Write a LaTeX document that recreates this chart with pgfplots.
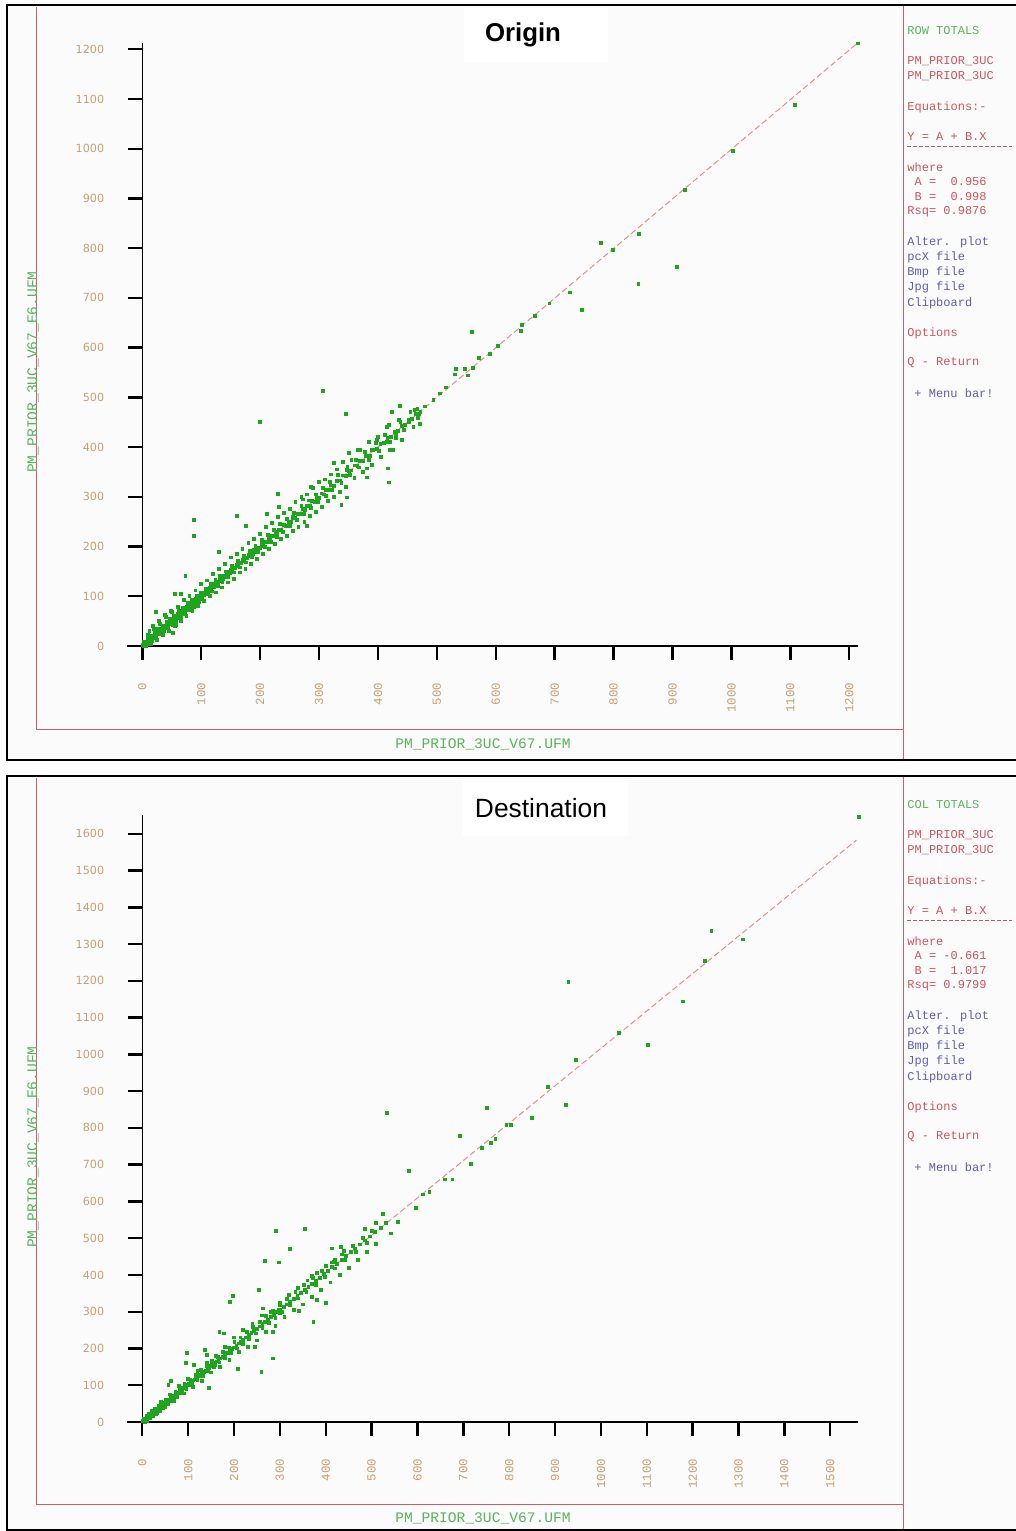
\documentclass[border=0pt]{standalone}
\usepackage{pgfplots}
\usepackage{pgfplotstable}
\pgfplotsset{compat=1.18}
\usepackage{fontspec}
\setmainfont{Liberation Sans}
\newfontfamily\mono{Liberation Mono}
\newfontfamily\dvs{DejaVu Sans}
\definecolor{tickc}{RGB}{200,160,115}
\definecolor{lblg}{RGB}{90,180,90}
\definecolor{sred}{RGB}{205,85,95}
\definecolor{sblue}{RGB}{95,95,175}
\definecolor{frm}{RGB}{200,95,105}
\definecolor{ptg}{RGB}{30,165,30}
\definecolor{regc}{RGB}{235,140,140}
\definecolor{bgc}{RGB}{251,251,251}

% ---------- Origin (row totals) ----------
\pgfplotstableread[row sep=\\]{x y\\
1 2\\ 2 1\\ 3 4\\ 4 3\\ 5 6\\ 6 5\\ 7 9\\ 8 7\\ 9 10\\ 10 9\\ 11 13\\ 12 11\\ 13 14\\ 14 12\\ 15 17\\ 16 15\\ 17 18\\ 18 16\\ 19 21\\ 20 19\\
21 23\\ 22 20\\ 23 25\\ 24 23\\ 25 27\\ 26 24\\ 27 29\\ 28 26\\ 29 31\\ 30 29\\ 31 33\\ 32 30\\ 33 35\\ 34 33\\ 35 38\\ 36 34\\ 37 39\\ 38 36\\ 39 41\\ 40 39\\
41 44\\ 42 40\\ 43 45\\ 44 43\\ 45 48\\ 46 44\\ 47 50\\ 48 46\\ 49 52\\ 50 49\\ 52 54\\ 53 51\\ 55 58\\ 56 54\\ 58 60\\ 59 57\\ 61 64\\ 62 60\\ 64 66\\ 65 63\\
67 70\\ 68 66\\ 70 72\\ 71 69\\ 73 76\\ 74 72\\ 76 78\\ 77 75\\ 79 82\\ 80 78\\ 82 84\\ 83 81\\ 85 88\\ 86 84\\ 88 90\\ 89 87\\ 91 94\\ 92 90\\ 94 96\\ 95 93\\
97 100\\ 98 96\\ 100 102\\ 101 99\\ 103 106\\ 105 103\\ 107 109\\ 109 107\\ 111 114\\ 113 111\\ 115 117\\ 117 115\\ 119 122\\ 121 119\\ 123 125\\ 125 123\\ 127 130\\ 129 127\\ 131 133\\ 133 131\\
135 138\\ 137 135\\ 139 141\\ 141 139\\ 143 146\\ 145 143\\ 147 149\\ 149 147\\ 151 154\\ 153 151\\ 155 157\\ 158 156\\ 160 163\\ 163 160\\ 165 167\\ 168 166\\ 170 173\\ 173 170\\ 175 177\\ 178 176\\
180 183\\ 183 180\\ 185 187\\ 188 186\\ 190 193\\ 193 190\\ 196 198\\ 199 197\\ 202 205\\ 205 202\\ 208 210\\ 211 209\\ 214 217\\ 217 214\\ 220 222\\ 223 221\\ 226 229\\ 229 226\\ 232 234\\ 236 234\\
240 243\\ 244 241\\ 248 250\\ 252 250\\ 256 259\\ 260 257\\ 264 266\\ 268 266\\ 272 275\\ 276 273\\ 280 282\\ 284 282\\ 288 291\\ 292 289\\ 296 298\\ 300 298\\ 304 307\\ 308 305\\ 312 314\\ 316 314\\
320 323\\ 325 322\\ 330 332\\ 335 333\\ 340 343\\ 345 342\\ 350 352\\ 355 353\\ 360 363\\ 365 362\\ 370 372\\ 375 373\\ 380 383\\ 386 383\\ 392 394\\ 398 396\\ 404 407\\ 410 408\\ 416 418\\ 422 420\\
428 431\\ 434 432\\ 440 442\\ 446 444\\ 452 455\\ 458 456\\ 465 467\\ 472 470\\ 480 482\\
3 9\\ 6 1\\ 9 15\\ 11 4\\ 14 20\\ 17 10\\ 21 28\\ 24 16\\ 27 34\\ 31 24\\ 34 41\\ 37 30\\ 41 48\\ 44 36\\ 47 55\\ 51 43\\ 54 61\\ 57 49\\ 62 70\\ 66 58\\
69 77\\ 72 64\\ 78 86\\ 81 73\\ 84 93\\ 87 79\\ 93 101\\ 96 88\\ 99 108\\ 102 94\\ 108 116\\ 112 104\\ 116 125\\ 118 110\\ 124 133\\ 128 120\\ 132 141\\ 136 128\\ 142 150\\ 146 138\\
152 161\\ 156 148\\ 162 171\\ 166 158\\ 172 181\\ 176 168\\ 182 192\\ 186 178\\ 192 202\\ 197 189\\ 203 213\\ 208 200\\ 213 223\\ 218 210\\ 224 234\\ 228 220\\ 234 245\\ 238 230\\ 246 256\\ 250 242\\
258 268\\ 262 254\\ 270 281\\ 274 266\\ 282 293\\ 286 278\\ 294 305\\ 298 290\\ 306 318\\ 311 302\\ 318 330\\ 322 314\\ 332 344\\ 338 329\\ 348 360\\ 352 344\\ 362 374\\ 368 359\\ 378 390\\ 384 375\\
396 408\\ 402 392\\ 412 424\\ 420 410\\ 438 450\\ 444 434\\ 462 474\\ 468 458\\
10 22\\ 15 5\\ 20 35\\ 25 12\\ 30 45\\ 35 22\\ 40 58\\ 45 30\\ 50 68\\ 55 40\\ 60 78\\ 65 50\\ 12 30\\ 18 40\\ 28 50\\ 38 62\\ 48 70\\ 58 42\\ 70 92\\ 75 60\\
80 100\\ 85 70\\ 90 112\\ 95 80\\ 100 125\\ 105 90\\ 110 132\\ 115 100\\ 120 145\\ 125 108\\ 130 155\\ 135 118\\ 140 165\\ 145 128\\ 150 178\\ 155 135\\ 160 185\\ 165 148\\ 170 195\\ 175 155\\
180 208\\ 185 165\\ 190 215\\ 195 175\\ 200 225\\ 205 185\\ 210 240\\ 215 195\\ 220 248\\ 225 205\\ 230 260\\ 235 215\\ 240 268\\ 245 222\\ 250 275\\ 255 232\\ 260 290\\ 265 240\\ 270 300\\ 275 250\\
280 305\\ 285 262\\ 290 318\\ 295 270\\ 300 330\\ 305 280\\ 310 335\\ 315 292\\ 320 345\\ 325 300\\ 330 355\\ 335 310\\ 340 370\\ 345 320\\ 355 375\\ 360 338\\ 370 395\\ 375 350\\ 385 410\\ 390 365\\
400 420\\ 405 380\\ 415 440\\ 420 395\\ 435 455\\ 440 415\\ 455 470\\ 460 440\\
306 513\\ 200 451\\ 346 467\\ 494 495\\ 467 477\\ 470 466\\ 471 446\\ 452 451\\ 437 483\\ 424 470\\ 418 444\\ 430 426\\ 431 418\\ 417 357\\ 418 329\\ 425 394\\ 415 411\\ 398 414\\ 390 394\\ 381 357\\
381 339\\ 365 394\\ 351 388\\ 347 354\\ 347 299\\ 338 284\\ 338 327\\ 325 369\\ 304 307\\ 286 320\\ 272 295\\ 279 242\\ 256 258\\ 230 306\\ 232 279\\ 211 265\\ 176 242\\ 160 261\\ 88 253\\ 87 221\\
73 141\\ 130 190\\ 55 105\\ 66 105\\ 23 68\\ 52 26\\ 505 508\\ 515 520\\
1215 1212\\ 1108 1088\\ 1003 996\\ 921 917\\ 843 829\\ 778 811\\ 799 796\\ 908 763\\ 842 728\\ 726 711\\ 746 676\\ 691 689\\ 666 664\\ 645 645\\ 643 633\\ 560 631\\ 604 604\\ 590 587\\ 571 579\\ 561 560\\
548 558\\ 532 558\\ 530 546\\ 553 544\\
}\tabA

% ---------- Destination (column totals) ----------
\pgfplotstableread[row sep=\\]{x y\\
2 2\\ 4 5\\ 6 6\\ 8 9\\ 10 10\\ 12 13\\ 14 14\\ 16 17\\ 18 18\\ 20 21\\ 22 22\\ 24 25\\ 26 26\\ 28 29\\ 30 30\\ 33 34\\ 36 37\\ 39 40\\ 42 43\\ 45 46\\
48 49\\ 51 52\\ 54 55\\ 57 58\\ 60 61\\ 63 64\\ 66 67\\ 69 70\\ 72 73\\ 75 76\\ 78 80\\ 81 82\\ 84 86\\ 87 88\\ 90 92\\ 93 94\\ 96 98\\ 99 100\\ 102 104\\ 105 107\\
108 110\\ 111 113\\ 114 116\\ 117 119\\ 120 122\\ 123 125\\ 126 128\\ 130 132\\ 134 136\\ 138 140\\ 142 144\\ 146 148\\ 150 153\\ 154 157\\ 158 161\\ 162 165\\ 166 169\\ 170 173\\ 175 178\\ 180 183\\
185 188\\ 190 193\\ 195 198\\ 200 203\\ 205 208\\ 210 214\\ 215 219\\ 220 224\\ 226 230\\ 232 236\\ 238 242\\ 244 248\\ 250 254\\ 256 260\\ 262 266\\ 268 272\\ 274 279\\ 280 285\\ 287 292\\ 294 299\\
301 306\\ 308 313\\ 315 320\\ 322 327\\ 330 335\\ 338 344\\ 346 352\\ 354 360\\ 362 368\\ 370 376\\ 378 384\\ 387 393\\ 396 402\\ 405 412\\ 414 421\\ 424 431\\ 434 441\\ 444 451\\ 454 462\\ 464 472\\
475 483\\ 486 494\\ 497 505\\ 508 517\\ 520 529\\ 152 158\\ 156 162\\ 158 155\\ 296 300\\ 298 305\\ 300 297\\ 292 298\\
3 10\\ 6 0\\ 9 16\\ 11 4\\ 15 22\\ 17 10\\ 21 29\\ 24 17\\ 28 36\\ 31 24\\ 35 44\\ 38 31\\ 43 52\\ 46 39\\ 52 61\\ 55 48\\ 62 72\\ 65 58\\ 72 82\\ 75 68\\
82 93\\ 86 79\\ 92 104\\ 96 89\\ 104 116\\ 108 101\\ 116 128\\ 120 113\\ 128 141\\ 132 126\\ 140 153\\ 144 138\\ 152 166\\ 156 150\\ 164 178\\ 168 162\\ 176 191\\ 180 174\\ 188 203\\ 193 188\\
201 217\\ 206 200\\ 214 230\\ 219 213\\ 228 245\\ 233 227\\ 242 259\\ 247 241\\ 256 273\\ 262 256\\ 270 288\\ 276 270\\ 284 302\\ 290 284\\ 300 318\\ 305 300\\ 316 335\\ 321 317\\ 334 353\\ 340 336\\
352 372\\ 358 354\\ 372 392\\ 378 374\\ 392 412\\ 398 395\\ 414 434\\ 420 418\\ 436 456\\ 442 440\\ 458 479\\ 466 463\\ 482 502\\ 490 488\\
20 30\\ 30 22\\ 40 55\\ 50 40\\ 60 75\\ 70 58\\ 80 98\\ 90 78\\ 100 118\\ 110 95\\ 120 140\\ 130 112\\ 140 160\\ 150 135\\ 160 180\\ 170 150\\ 180 205\\ 190 170\\ 200 230\\ 210 190\\
220 250\\ 230 205\\ 240 268\\ 250 222\\ 260 290\\ 270 245\\ 280 300\\ 290 262\\ 300 325\\ 310 285\\ 320 345\\ 330 305\\ 340 365\\ 350 320\\ 360 385\\ 370 340\\ 380 405\\ 390 360\\ 400 425\\ 410 380\\
420 440\\ 430 400\\ 440 465\\ 450 420\\ 460 480\\ 470 440\\ 480 500\\ 490 462\\ 500 520\\ 510 485\\
291.5 519.6\\ 354.7 526\\ 322 470\\ 267.5 439\\ 298 434\\ 198 344\\ 191 327\\ 168 246\\ 178 241\\ 97 187\\ 95 160\\ 113 155\\ 137 196\\ 140 182\\ 63 112\\ 57 101\\ 145 93\\ 209 144\\ 259.5 137\\ 284 173\\
255 359\\ 262.5 309\\ 246 205\\ 285.6 246\\ 341 303\\ 373 273\\ 400 325\\ 381.5 332\\ 370 397\\ 416.5 436\\ 414 472\\ 432.5 477\\ 581 684\\ 660 660\\ 676 660\\ 716.6 702\\ 597 583\\ 611 619\\ 626 625\\ 558 545\\
542 513\\ 524 566\\ 509.5 542\\ 531 542\\ 485.5 525\\ 533 840\\ 693 778\\ 751 854\\ 740 745\\ 760 760\\ 770 770\\
1562 1647\\ 1241 1336\\ 1309 1313\\ 1227 1254\\ 1178 1144\\ 929 1198\\ 1039 1059\\ 1102 1026\\ 945 985\\ 884 912\\ 924 863\\ 849 827\\ 794 808\\ 804 808\\
}\tabB

\pgfplotsset{
  panel/.style={
    scale only axis, anchor=south west, clip=false,
    axis line style={draw=none},
    xtick pos=left, ytick pos=left,
    tick align=outside, major tick length=7pt,
    tick style={black, line width=1.2pt},
    /pgf/number format/1000 sep={},
    /pgf/number format/assume math mode=true,
    yticklabel shift={8.5pt}, xticklabel shift={8pt},
    yticklabel style={font=\dvs\fontsize{5.6}{6}\selectfont, text=tickc},
    xticklabel style={font=\mono\fontsize{6.2}{7}\selectfont, text=tickc, rotate=90, anchor=east},
  },
  pts/.style={only marks, mark=square*, mark size=0.7pt, ptg, mark options={draw=none, fill=ptg}},
}

\newcommand{\sidebar}[5]{%
  \begin{scope}[yshift=#1, x=0.5pt, y=-0.5pt, every node/.style={anchor=west, inner sep=0pt, font=\mono\fontsize{6}{7}\selectfont}]
    \node[text=lblg] at (907,31) {#2};
    \node[text=sred] at (907,61) {PM\_PRIOR\_3UC};
    \node[text=sred] at (907,76) {PM\_PRIOR\_3UC};
    \node[text=sred] at (907,107) {Equations:-};
    \node[text=sred] at (907,137) {Y = A + B.X};
    \draw[sred, dashed, line width=0.4pt, dash pattern=on 2pt off 1pt] (907,146) -- (1012,146);
    \node[text=sred] at (907,167) {where};
    \node[text=sred] at (907,182) {\ A = #3};
    \node[text=sred] at (907,197) {\ B = #4};
    \node[text=sred] at (907,212) {Rsq= #5};
    \node[text=sblue] at (907,242) {Alter. plot};
    \node[text=sblue] at (907,257) {pcX file};
    \node[text=sblue] at (907,272) {Bmp file};
    \node[text=sblue] at (907,287) {Jpg file};
    \node[text=sblue] at (907,303) {Clipboard};
    \node[text=sred] at (907,333) {Options};
    \node[text=sred] at (907,363) {Q - Return};
    \node[text=sblue] at (914,393) {+ Menu bar!};
  \end{scope}}

\begin{document}
\begin{tikzpicture}
\begin{scope}[x=0.5pt, y=-0.5pt]
  \useasboundingbox (0,0) rectangle (1016,1531);
  \fill[white] (0,0) rectangle (1016,1531);
  % panel 1
  \fill[bgc] (7,5) rectangle (1016,760);
  \fill[white] (464,8) rectangle (608,62);
  \draw[frm, line width=0.5pt] (36,7) -- (36,729) -- (903,729);
  \draw[frm, line width=0.5pt] (903,6) -- (903,760);
  \draw[line width=1pt] (1017,5) -- (7,5) -- (7,760) -- (1017,760);
  \node[font=\bfseries\fontsize{12.9}{14}\selectfont] at (523,35) {Origin};
  \node[text=lblg, font=\mono\fontsize{7.3}{8}\selectfont] at (483,744) {PM\_PRIOR\_3UC\_V67.UFM};
  \node[text=lblg, rotate=90, font=\mono\fontsize{7.3}{8}\selectfont] at (33,372) {PM\_PRIOR\_3UC\_V67\_E6.UFM};
  % panel 2
  \fill[bgc] (7,776) rectangle (1016,1530);
  \fill[white] (462,780) rectangle (628,836);
  \draw[frm, line width=0.5pt] (36,778) -- (36,1504) -- (903,1504);
  \draw[frm, line width=0.5pt] (903,777) -- (903,1531);
  \draw[line width=1pt] (1017,776) -- (7,776) -- (7,1530) -- (1017,1530);
  \node[font=\fontsize{13.2}{15}\selectfont] at (541,808) {Destination};
  \node[text=lblg, font=\mono\fontsize{7.3}{8}\selectfont] at (483,1518) {PM\_PRIOR\_3UC\_V67.UFM};
  \node[text=lblg, rotate=90, font=\mono\fontsize{7.3}{8}\selectfont] at (33,1147) {PM\_PRIOR\_3UC\_V67\_E6.UFM};
\end{scope}
\sidebar{0pt}{ROW TOTALS}{\ 0.956}{\ 0.998}{0.9876}
\sidebar{-387pt}{COL TOTALS}{-0.661}{\ 1.017}{0.9799}

% ---------- axis 1 ----------
\begin{axis}[panel, at={(71.15pt,-323pt)}, width=357.9pt, height=301.6pt,
  xmin=0, xmax=1215, ymin=0, ymax=1213,
  xtick={0,100,...,1200}, ytick={0,100,...,1200}]
  \draw[black, line width=0.6pt] (axis cs:-25.5,0) -- (axis cs:1215,0);
  \draw[black, line width=0.6pt] (axis cs:0,0) -- (axis cs:0,1213);
  \addplot[regc, dashed, line width=0.5pt, dash pattern=on 3pt off 1.5pt] coordinates {(0,0.956) (1215,1213.5)};
  \addplot[pts] table[x=x, y=y] {\tabA};
\end{axis}

% ---------- axis 2 ----------
\begin{axis}[panel, at={(71.15pt,-711pt)}, width=358.2pt, height=303.3pt,
  xmin=0, xmax=1562, ymin=0, ymax=1650,
  xtick={0,100,...,1500}, ytick={0,100,...,1600}]
  \draw[black, line width=0.6pt] (axis cs:-32.7,0) -- (axis cs:1560,0);
  \draw[black, line width=0.6pt] (axis cs:0,0) -- (axis cs:0,1650);
  \addplot[regc, dashed, line width=0.5pt, dash pattern=on 3pt off 1.5pt] coordinates {(0,-0.661) (1557,1582.8)};
  \addplot[pts] table[x=x, y=y] {\tabB};
\end{axis}
\end{tikzpicture}
\end{document}
